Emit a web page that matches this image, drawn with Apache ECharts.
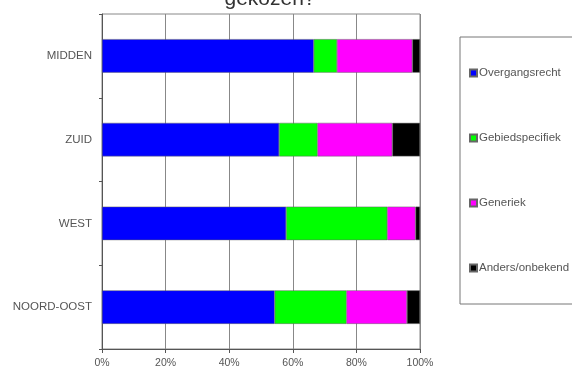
<!DOCTYPE html>
<html><head><meta charset="utf-8">
<script src="https://cdn.jsdelivr.net/npm/echarts@6/dist/echarts.min.js"></script>
<style>html,body{margin:0;padding:0;background:#fff}#c{width:572px;height:372px}</style>
</head><body><div id="c"></div>
<script>
const categories = ['NOORD-OOST', 'WEST', 'ZUID', 'MIDDEN'];
const overgangsrecht = [54.3, 57.9, 55.7, 66.6];
const gebiedspecifiek = [22.6, 31.8, 12.1, 7.3];
const generiek = [19.0, 8.9, 23.5, 23.7];
const anders = [4.1, 1.4, 8.7, 2.4];
const xTicks = [0, 20, 40, 60, 80, 100];
const seriesNames = ['Overgangsrecht', 'Gebiedspecifiek', 'Generiek', 'Anders/onbekend'];
const colors = ['#0000ff', '#00ff00', '#ff00ff', '#000000'];

const chart = echarts.init(document.getElementById('c'), null, {renderer: 'canvas'});
const datas = [overgangsrecht, gebiedspecifiek, generiek, anders];
chart.setOption({
  animation: false,
  backgroundColor: '#fff',
  title: {
    text: 'gekozen?', left: 265, textAlign: 'center', top: -16,
    textStyle: {fontFamily: 'Liberation Sans', fontSize: 21, fontWeight: 'normal', color: '#333'}
  },
  grid: {left: 102, right: 152, top: 14, bottom: 23, show: true, borderColor: '#888', borderWidth: 1},
  legend: {
    orient: 'vertical', left: 460, top: 37,
    data: seriesNames,
    itemWidth: 7, itemHeight: 7, itemGap: 53,
    icon: 'rect',
    padding: [30, 60, 30, 9],
    borderColor: '#777', borderWidth: 1,
    textStyle: {fontFamily: 'Liberation Sans', fontSize: 11.5, color: '#555', padding: [0, 0, 0, -3]}
  },
  xAxis: {
    type: 'value', min: 0, max: 100, interval: 20,
    axisLine: {show: true, lineStyle: {color: '#555'}},
    axisTick: {show: true, length: 4, lineStyle: {color: '#555'}},
    splitLine: {show: true, lineStyle: {color: '#888', width: 1}},
    axisLabel: {formatter: v => xTicks.includes(v) ? v + '%' : '', fontFamily: 'Liberation Sans', fontSize: 10.5, color: '#555', margin: 9}
  },
  yAxis: {
    type: 'category', data: categories,
    axisLine: {show: true, lineStyle: {color: '#555'}},
    axisTick: {show: true, length: 3, lineStyle: {color: '#555'}},
    axisLabel: {fontFamily: 'Liberation Sans', fontSize: 11.5, color: '#555', margin: 10}
  },
  series: datas.map((d, i) => ({
    name: seriesNames[i], type: 'bar', stack: 'total', data: d,
    barCategoryGap: '60%',
    itemStyle: {color: colors[i], borderColor: '#666', borderWidth: 0.5}
  }))
});
</script></body></html>
